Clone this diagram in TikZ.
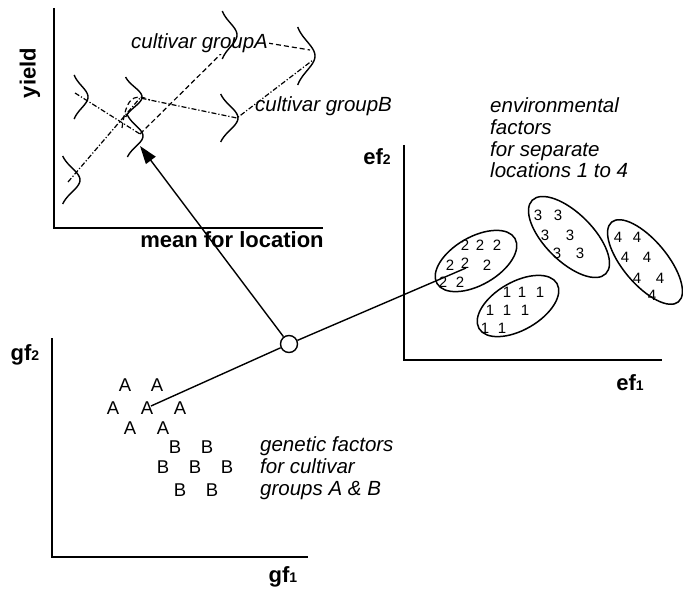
\documentclass[tikz,border=0pt]{standalone}
\usepackage{fontspec}
\setmainfont{Liberation Sans}
\usepackage{tikz}
\usetikzlibrary{arrows.meta,positioning,calc}

\begin{document}
\begin{tikzpicture}[x=1pt,y=-1pt,
  axis/.style={line width=2pt},
  density/.style={line width=1.4pt},
  link/.style={line width=1.4pt},
  cluster/.style={line width=1.5pt},
  lbl/.style={font=\fontsize{22}{22}\selectfont\bfseries,inner sep=0pt},
  note/.style={font=\fontsize{20.5}{21.7}\selectfont\itshape,align=left,anchor=west,inner sep=0pt},
  letter/.style={font=\fontsize{18.5}{18}\selectfont,inner sep=0pt},
  digit/.style={font=\fontsize{15}{15}\selectfont,inner sep=0pt},
  grpA/.style={line width=1.2pt,dash pattern=on 5pt off 3pt},
  grpB/.style={line width=1.2pt,dash pattern=on 5pt off 2pt on 1.2pt off 2pt}]
  \useasboundingbox (0,0) rectangle (683,591);
  \def\bell#1#2#3#4{
    \draw[density] plot[domain=-1:1,samples=31,smooth] ({#1-#3+#3*exp(-2*\x*\x)},{#2+#4*\x});
  }
  \def\dig#1{{\fontsize{14}{14}\selectfont #1}}

  % yield against mean for location
  \draw[axis] (54,8) -- (54,228) -- (323,228);
  \node[lbl,rotate=90] (yield) at (30,73) {yield};
  \node[lbl] (mean) at (232,240) {mean for location};
  \coordinate (pb1) at (68,182);
  \coordinate (pb2) at (140,98);
  \coordinate (pb3) at (237,118);
  \coordinate (pb4) at (313,60);
  \coordinate (pa1) at (75,93);
  \coordinate (pa2) at (140,134);
  \coordinate (pa3) at (237,38);
  \coordinate (pa4) at (310,50);
  \draw[grpB] (pb1) -- (pb2) -- (pb3) -- (pb4);
  \draw[grpB] (pa1) -- (pa2);
  \draw[grpA] (pa2) -- (pa3) -- (pa4);
  \draw[grpA] (122,128) .. controls (126,100) and (132,92) .. (150,100);
  \node[note,fill=white,inner sep=1pt] (grpAlbl) at (130,43) {cultivar groupA};
  \node[note] (grpBlbl) at (255,106) {cultivar groupB};
  \foreach \px/\py/\w/\h in {80/180/20/24, 88/97/16/22, 142/97/19/20, 143/136/18/21,
      237/35/17/24, 315/56/20/29, 238/118/20/24}
    {\bell{\px}{\py}{\w}{\h}}

  % genetic factors
  \draw[axis] (52,338) -- (52,557) -- (308,557);
  \node[lbl] (gf2) at (25,355) {gf\dig{2}};
  \node[lbl] (gf1) at (283,577) {gf\dig{1}};
  \foreach \px/\py [count=\i] in {125/385,157/385,113/408,147/408,180/408,130/428,163/428}
    \node[letter] (gA\i) at (\px,\py) {A};
  \foreach \px/\py [count=\i] in {175/447,207/447,163/467,195/467,227/467,180/490,212/490}
    \node[letter] (gB\i) at (\px,\py) {B};
  \node[note] (gnote) at (260,468) {genetic factors\\for cultivar\\groups A \& B};

  % environmental factors
  \draw[axis] (404,145) -- (404,360) -- (662,360);
  \node[lbl] (ef2) at (377,157) {ef\dig{2}};
  \node[lbl] (ef1) at (630,383) {ef\dig{1}};
  \node[note] (enote) at (490,138) {environmental\\factors\\for separate\\locations 1 to 4};
  \draw[cluster,rotate around={30:(476,261)}] (476,261) ellipse[x radius=45,y radius=24];
  \draw[cluster,rotate around={30:(518,306)}] (518,306) ellipse[x radius=45,y radius=24];
  \draw[cluster,rotate around={-45:(569,237)}] (569,237) ellipse[x radius=52,y radius=24];
  \draw[cluster,rotate around={-50:(645,262)}] (645,262) ellipse[x radius=52,y radius=22];
  \foreach \px/\py [count=\i] in {465/245,480/245,497/245,450/265,465/263,487/265,443/282,460/282}
    \node[digit] (loc2\i) at (\px,\py) {2};
  \foreach \px/\py [count=\i] in {507/292,522/292,540/292,490/310,507/310,525/310,485/328,502/328}
    \node[digit] (loc1\i) at (\px,\py) {1};
  \foreach \px/\py [count=\i] in {538/215,558/215,545/235,570/235,557/253,580/253}
    \node[digit] (loc3\i) at (\px,\py) {3};
  \foreach \px/\py [count=\i] in {618/237,637/237,625/257,647/257,637/278,660/278,652/295}
    \node[digit] (loc4\i) at (\px,\py) {4};

  % combining genotype and environment
  \node[circle,draw,line width=1.4pt,minimum size=17pt,inner sep=0pt,fill=white] (mix) at (289,344) {};
  \coordinate (gstart) at (151,406);
  \coordinate (estop) at (466,268);
  \coordinate (tip) at (140,146);
  \draw[link] (gstart) -- (mix) -- (estop);
  \draw[link,-{Triangle[length=18pt,width=12pt]}] (mix) -- (tip);
\end{tikzpicture}
\end{document}
